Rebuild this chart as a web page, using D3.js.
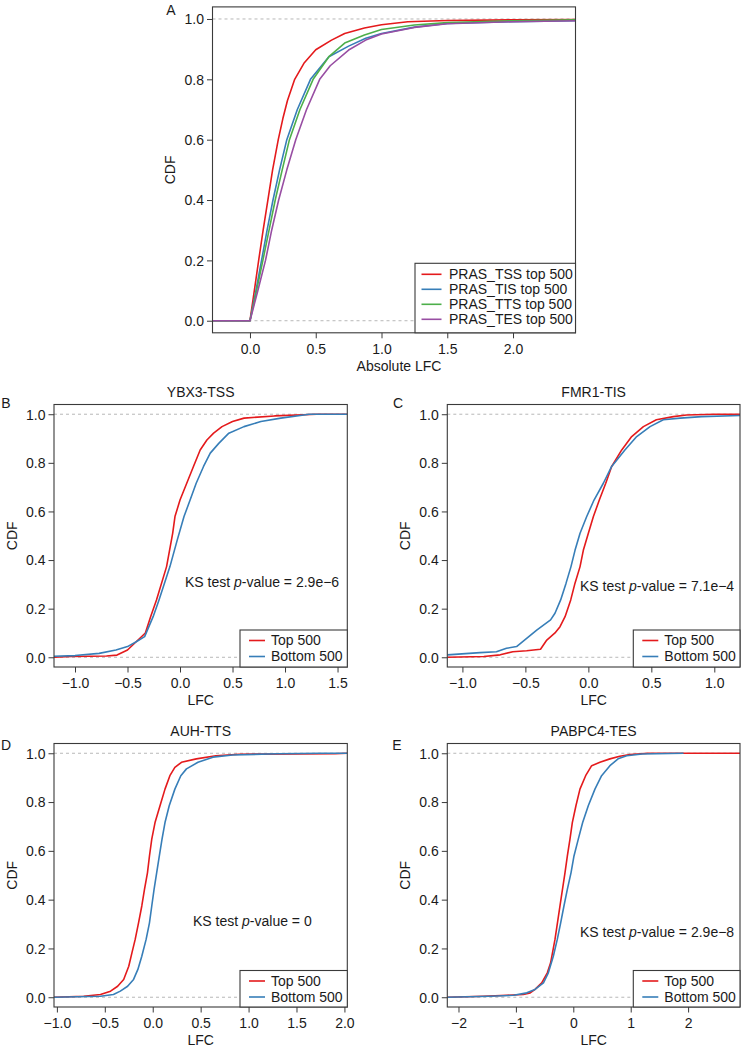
<!DOCTYPE html>
<html><head><meta charset="utf-8">
<script src="https://cdn.jsdelivr.net/npm/d3@7"></script>
<style>
body{margin:0;background:#fff}
text{font-family:"Liberation Sans",Arial,Helvetica,sans-serif;fill:#1a1a1a;font-size:14px}
</style>
</head><body>
<svg id="chart" width="741" height="1050"></svg>
<script>
// ---------------- DATA ----------------
const cdfTicks = [0, 0.2, 0.4, 0.6, 0.8, 1.0];
const aTicks = [0, 0.5, 1, 1.5, 2];
const bTicks = [-1, -0.5, 0, 0.5, 1, 1.5];
const cTicks = [-1, -0.5, 0, 0.5, 1];
const dTicks = [-1, -0.5, 0, 0.5, 1, 1.5, 2];
const eTicks = [-2, -1, 0, 1, 2];

const aLabels = ["PRAS_TSS top 500", "PRAS_TIS top 500", "PRAS_TTS top 500", "PRAS_TES top 500"];
const pairLabels = ["Top 500", "Bottom 500"];
const panelTitles = ["YBX3-TSS", "FMR1-TIS", "AUH-TTS", "PABPC4-TES"];
const ksValues = ["2.9e\u22126", "7.1e\u22124", "0", "2.9e\u22128"];

// Panel A: absolute LFC CDFs  [x, cdf]
const aTSS = [[-0.285,0],[0,0],[0.033,0.1],[0.066,0.2],[0.1,0.3],[0.136,0.4],[0.172,0.5],[0.215,0.6],[0.25,0.67],[0.285,0.73],[0.34,0.8],[0.41,0.853],[0.5,0.898],[0.62,0.93],[0.72,0.952],[0.87,0.97],[1.0,0.981],[1.2,0.991],[1.5,0.995],[2.0,0.997],[2.475,0.998]];
const aTIS = [[-0.285,0],[0,0],[0.045,0.1],[0.088,0.2],[0.13,0.3],[0.175,0.4],[0.225,0.5],[0.28,0.6],[0.36,0.7],[0.46,0.8],[0.6,0.875],[0.75,0.91],[0.88,0.936],[1.0,0.952],[1.25,0.973],[1.5,0.985],[2.0,0.991],[2.475,0.994]];
const aTTS = [[-0.285,0],[0,0],[0.05,0.1],[0.098,0.2],[0.145,0.3],[0.192,0.4],[0.245,0.5],[0.3,0.6],[0.38,0.7],[0.48,0.8],[0.6,0.875],[0.72,0.92],[0.87,0.947],[1.0,0.965],[1.25,0.98],[1.5,0.988],[2.0,0.994],[2.475,0.997]];
const aTES = [[-0.285,0],[0,0],[0.06,0.1],[0.118,0.2],[0.165,0.3],[0.218,0.4],[0.28,0.5],[0.348,0.6],[0.43,0.7],[0.53,0.8],[0.61,0.845],[0.75,0.897],[0.88,0.93],[1.0,0.95],[1.25,0.972],[1.5,0.984],[2.0,0.991],[2.475,0.994]];

// Panel B: YBX3-TSS
const bTop = [[-1.2,0],[-1.03,0.003],[-0.7,0.005],[-0.6,0.009],[-0.5,0.03],[-0.4,0.071],[-0.33,0.1],[-0.28,0.167],[-0.224,0.236],[-0.128,0.373],[-0.07,0.51],[-0.048,0.579],[0.0,0.647],[0.064,0.716],[0.128,0.785],[0.192,0.853],[0.256,0.894],[0.32,0.922],[0.4,0.949],[0.5,0.97],[0.61,0.984],[0.9,0.993],[1.3,1.0],[1.593,1.0]];
const bBottom = [[-1.2,0.004],[-1.0,0.007],[-0.77,0.016],[-0.61,0.03],[-0.5,0.044],[-0.417,0.064],[-0.337,0.085],[-0.256,0.167],[-0.2,0.236],[-0.096,0.373],[-0.026,0.483],[0.038,0.579],[0.096,0.647],[0.154,0.716],[0.224,0.785],[0.288,0.84],[0.369,0.88],[0.465,0.922],[0.609,0.949],[0.77,0.97],[0.96,0.984],[1.23,1.0],[1.593,1.0]];

// Panel C: FMR1-TIS
const cTop = [[-1.12,0],[-0.83,0.003],[-0.7,0.01],[-0.6,0.023],[-0.49,0.027],[-0.38,0.033],[-0.33,0.071],[-0.265,0.1],[-0.225,0.126],[-0.185,0.167],[-0.14,0.236],[-0.106,0.305],[-0.066,0.373],[-0.04,0.44],[0.0,0.51],[0.04,0.579],[0.087,0.647],[0.138,0.716],[0.185,0.785],[0.265,0.853],[0.344,0.908],[0.437,0.949],[0.54,0.977],[0.675,0.99],[0.78,0.997],[1.0,1.0],[1.204,1.0]];
const cBottom = [[-1.12,0.01],[-0.86,0.019],[-0.73,0.023],[-0.65,0.037],[-0.57,0.044],[-0.49,0.078],[-0.41,0.112],[-0.3,0.154],[-0.265,0.181],[-0.22,0.236],[-0.177,0.305],[-0.138,0.373],[-0.106,0.44],[-0.066,0.51],[-0.013,0.579],[0.045,0.647],[0.119,0.716],[0.185,0.785],[0.29,0.853],[0.384,0.908],[0.49,0.949],[0.595,0.977],[0.73,0.984],[0.9,0.99],[1.204,0.995]];

// Panel D: AUH-TTS
const dTop = [[-1.03,0],[-0.72,0.004],[-0.545,0.011],[-0.44,0.025],[-0.366,0.045],[-0.303,0.073],[-0.25,0.127],[-0.217,0.182],[-0.183,0.237],[-0.148,0.305],[-0.114,0.374],[-0.086,0.442],[-0.055,0.51],[-0.034,0.579],[-0.01,0.648],[0.024,0.716],[0.076,0.785],[0.128,0.853],[0.179,0.908],[0.231,0.942],[0.3,0.963],[0.455,0.977],[0.66,0.99],[0.9,0.996],[1.9,0.998],[2.03,1.0]];
const dBottom = [[-1.03,0],[-0.545,0.004],[-0.41,0.011],[-0.338,0.025],[-0.262,0.045],[-0.2,0.073],[-0.155,0.114],[-0.114,0.168],[-0.069,0.237],[-0.034,0.305],[-0.01,0.374],[0.014,0.442],[0.041,0.51],[0.069,0.579],[0.097,0.648],[0.128,0.716],[0.172,0.785],[0.231,0.853],[0.293,0.908],[0.352,0.936],[0.472,0.963],[0.628,0.984],[0.834,0.993],[1.3,0.998],[1.75,1.0],[2.03,1.0]];

// Panel E: PABPC4-TES
const eTop = [[-2.195,0],[-1.57,0.004],[-1.16,0.008],[-0.87,0.011],[-0.75,0.018],[-0.667,0.032],[-0.55,0.059],[-0.453,0.1],[-0.395,0.141],[-0.319,0.237],[-0.232,0.374],[-0.145,0.51],[-0.104,0.578],[-0.058,0.648],[-0.017,0.716],[0.046,0.785],[0.116,0.853],[0.215,0.908],[0.32,0.949],[0.464,0.963],[0.638,0.977],[0.81,0.988],[0.987,0.995],[1.3,1.0],[2.904,1.0]];
const eBottom = [[-2.195,0],[-1.45,0.004],[-1.04,0.008],[-0.81,0.018],[-0.667,0.032],[-0.52,0.059],[-0.435,0.1],[-0.348,0.168],[-0.279,0.237],[-0.22,0.305],[-0.163,0.374],[-0.104,0.442],[-0.04,0.51],[0.012,0.579],[0.087,0.648],[0.163,0.716],[0.261,0.785],[0.377,0.853],[0.493,0.908],[0.638,0.949],[0.78,0.977],[0.93,0.99],[1.2,0.997],[1.92,1.0]];

// ---------------- STYLE / LAYOUT ----------------
const RED = "#e41a1c", BLUE = "#377eb8", GREEN = "#4daf4a", PURPLE = "#984ea3";
const fmt1 = d3.format(".1f"), fmt0 = d3.format("d");

const panels = [
  {id:"A", box:[212.5,575.5,6.9,332.8], xd:[-0.285,2.475], ticks:aTicks, fmt:fmt1, xlab:"Absolute LFC", xlabX:399,
   letter:[171,10], series:[aTSS,aTIS,aTTS,aTES], colors:[RED,BLUE,GREEN,PURPLE], labels:aLabels,
   legend:{x:415, y:263.3, first:11, step:15, l0:6.5, l1:26.5, tx:34}},
  {id:"B", box:[54,347.3,404.5,667], xd:[-1.2,1.593], ticks:bTicks, fmt:fmt1, xlab:"LFC", title:panelTitles[0], ks:ksValues[0], ksPos:[185,581.7],
   letter:[6,403], series:[bTop,bBottom], colors:[RED,BLUE], labels:pairLabels,
   legend:{x:240, y:630, first:10.5, step:16, l0:9, l1:25, tx:31}},
  {id:"C", box:[447.3,740,404.5,667], xd:[-1.12,1.204], ticks:cTicks, fmt:fmt1, xlab:"LFC", title:panelTitles[1], ks:ksValues[1], ksPos:[580,586],
   letter:[398,403], series:[cTop,cBottom], colors:[RED,BLUE], labels:pairLabels,
   legend:{x:633.3, y:630, first:10.5, step:16, l0:9, l1:25, tx:31}},
  {id:"D", box:[54,347.3,743.5,1007], xd:[-1.03,2.03], ticks:dTicks, fmt:fmt1, xlab:"LFC", title:panelTitles[2], ks:ksValues[2], ksPos:[193,921],
   letter:[6,745], series:[dTop,dBottom], colors:[RED,BLUE], labels:pairLabels,
   legend:{x:240, y:970.5, first:10.5, step:16, l0:9, l1:25, tx:31}},
  {id:"E", box:[447.3,740,743.5,1007], xd:[-2.195,2.904], ticks:eTicks, fmt:fmt0, xlab:"LFC", title:panelTitles[3], ks:ksValues[3], ksPos:[580,932.5],
   letter:[397,745], series:[eTop,eBottom], colors:[RED,BLUE], labels:pairLabels,
   legend:{x:633.3, y:970.5, first:10.5, step:16, l0:9, l1:25, tx:31}}
];

const svg = d3.select("#chart");
const defs = svg.append("defs");
const AXIS = "#3a3a3a";

panels.forEach(p => {
  const [x0,x1,y0,y1] = p.box;
  const x = d3.scaleLinear().domain(p.xd).range([x0,x1]);
  const y = d3.scaleLinear().domain([-0.04,1.04]).range([y1,y0]);
  const g = svg.append("g");

  defs.append("clipPath").attr("id","clip"+p.id)
    .append("rect").attr("x",x0).attr("y",y0).attr("width",x1-x0).attr("height",y1-y0);

  // reference dashed lines
  [0,1].forEach(v => {
    g.append("line").attr("x1",x0).attr("x2",x1).attr("y1",y(v)).attr("y2",y(v))
      .attr("stroke","#b8b8b8").attr("stroke-width",1).attr("stroke-dasharray","3,3");
  });

  // curves
  const line = d3.line().x(d => x(d[0])).y(d => y(d[1]));
  const cg = g.append("g").attr("clip-path","url(#clip"+p.id+")");
  p.series.forEach((s,i) => {
    cg.append("path").datum(s).attr("d",line).attr("fill","none")
      .attr("stroke",p.colors[i]).attr("stroke-width",1.6).attr("stroke-linejoin","round");
  });

  // axes
  const ax = g.append("g").attr("transform",`translate(0,${y1})`)
    .call(d3.axisBottom(x).tickValues(p.ticks).tickFormat(p.fmt).tickSize(5.5).tickSizeOuter(0));
  ax.select(".domain").remove();
  ax.selectAll(".tick line").attr("stroke",AXIS);
  ax.selectAll(".tick text").attr("y",16.5).attr("dy","0.35em");

  const ay = g.append("g").attr("transform",`translate(${x0},0)`)
    .call(d3.axisLeft(y).tickValues(cdfTicks).tickFormat(fmt1).tickSize(5.5).tickSizeOuter(0));
  ay.select(".domain").remove();
  ay.selectAll(".tick line").attr("stroke",AXIS);
  ay.selectAll(".tick text").attr("x",-8.5).attr("dy","0.35em");
  [ax,ay].forEach(a => a.attr("font-size",null).attr("font-family",null));

  // box
  g.append("rect").attr("x",x0).attr("y",y0).attr("width",x1-x0).attr("height",y1-y0)
    .attr("fill","none").attr("stroke",AXIS).attr("stroke-width",1.1);

  // axis titles
  g.append("text").attr("x",p.xlabX || (x0+x1)/2).attr("y",y1+33.5).attr("dy","0.35em")
    .attr("text-anchor","middle").text(p.xlab);
  g.append("text").attr("transform",`translate(${x0-42},${(y0+y1)/2}) rotate(-90)`)
    .attr("dy","0.35em").attr("text-anchor","middle").text("CDF");

  if (p.title) {
    g.append("text").attr("x",(x0+x1)/2).attr("y",y0-12.5).attr("dy","0.35em")
      .attr("text-anchor","middle").text(p.title);
  }
  g.append("text").attr("x",p.letter[0]).attr("y",p.letter[1]).attr("dy","0.35em")
    .attr("text-anchor","middle").text(p.id);

  if (p.ks !== undefined) {
    const t = g.append("text").attr("x",p.ksPos[0]).attr("y",p.ksPos[1]).attr("dy","0.35em");
    t.append("tspan").text("KS test ");
    t.append("tspan").attr("font-style","italic").text("p");
    t.append("tspan").text("-value = " + p.ks);
  }

  // legend
  const L = p.legend;
  const lh = y1 - L.y;
  g.append("rect").attr("x",L.x).attr("y",L.y).attr("width",x1-L.x).attr("height",lh)
    .attr("fill","#fff").attr("stroke",AXIS).attr("stroke-width",1.1);
  p.labels.forEach((lab,i) => {
    const ly = L.y + L.first + i*L.step;
    g.append("line").attr("x1",L.x+L.l0).attr("x2",L.x+L.l1).attr("y1",ly).attr("y2",ly)
      .attr("stroke",p.colors[i]).attr("stroke-width",1.6);
    g.append("text").attr("x",L.x+L.tx).attr("y",ly).attr("dy","0.35em").text(lab);
  });
});
</script>
</body></html>
